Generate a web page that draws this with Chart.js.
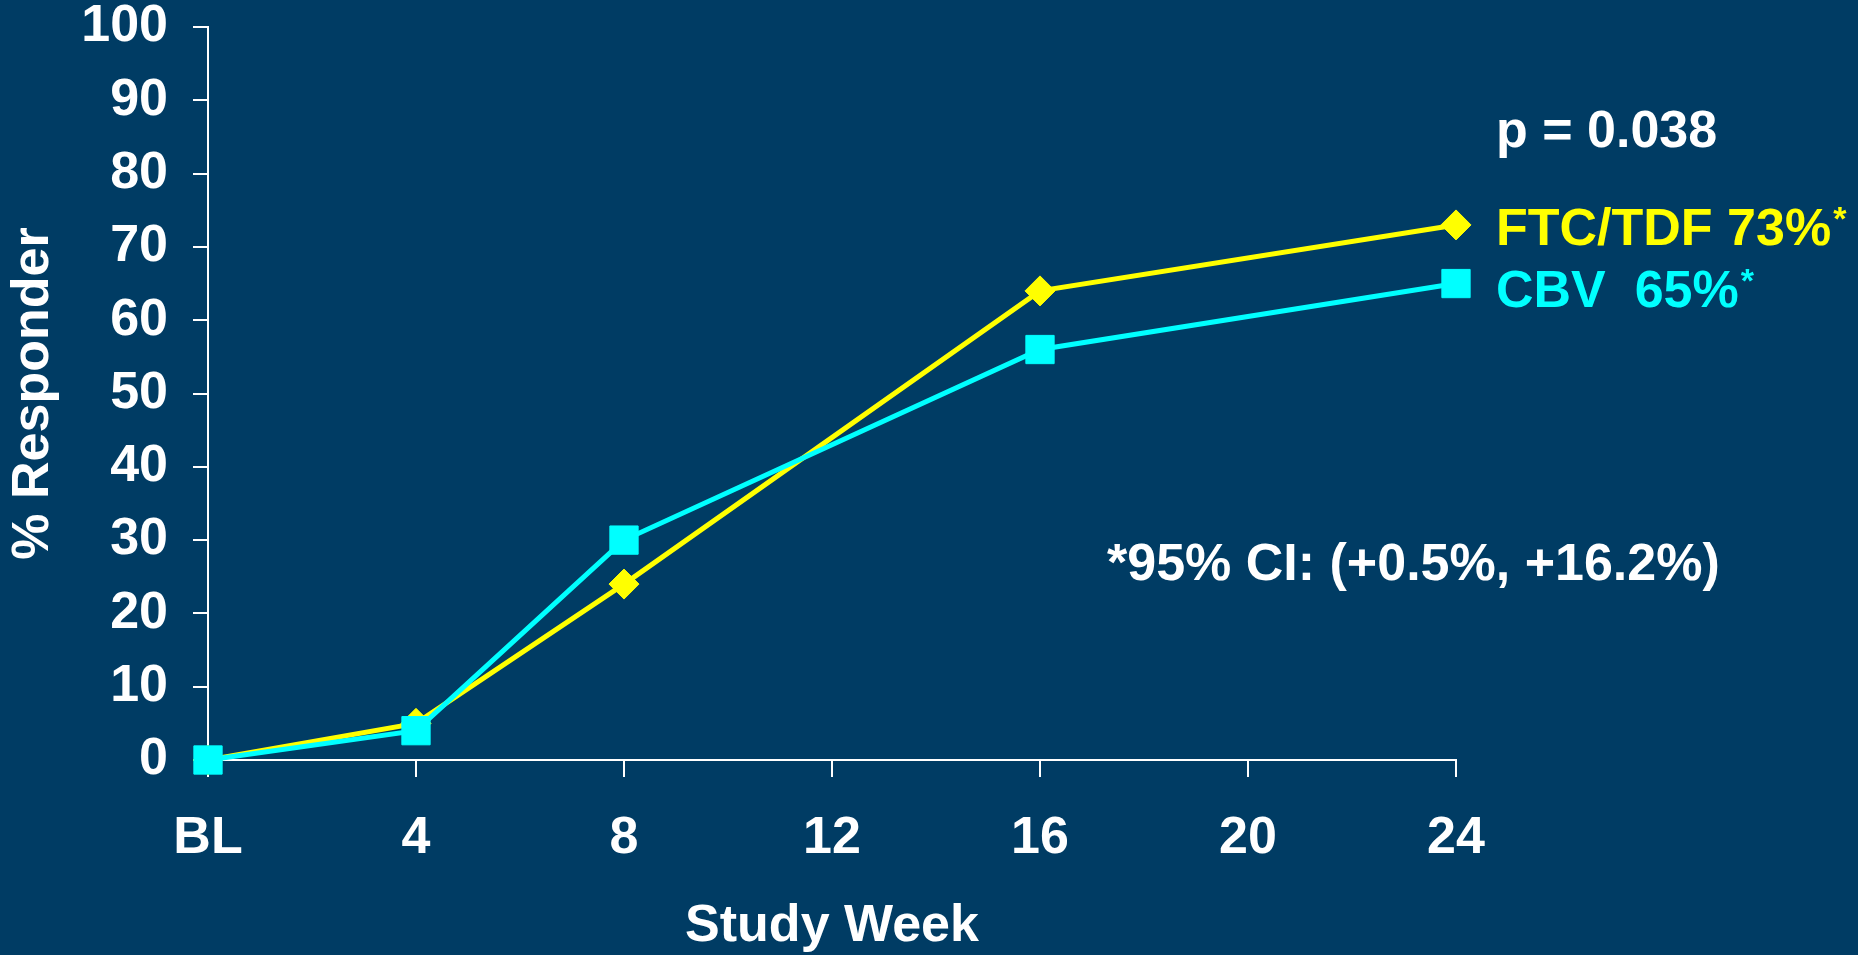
<!DOCTYPE html>
<html>
<head>
<meta charset="utf-8">
<script src="https://cdn.jsdelivr.net/npm/chart.js@4"></script>
<style>
html,body{margin:0;padding:0;background:#003c64;overflow:hidden}
canvas{display:block}
</style>
</head>
<body>
<canvas id="c" width="1858" height="955"></canvas>
<script>
// ---- data ----
const weeks = [0, 4, 8, 16, 24];
const ftcTdf = [0, 5, 24, 64, 73];
const cbv = [0, 4, 30, 56, 65];
const xTickValues = [0, 4, 8, 12, 16, 20, 24];
const xTickLabels = ['BL', '4', '8', '12', '16', '20', '24'];
const yTickValues = [0, 10, 20, 30, 40, 50, 60, 70, 80, 90, 100];
const seriesLabels = ['FTC/TDF 73%', 'CBV  65%'];
const pValueText = 'p = 0.038';
const ciText = '*95% CI: (+0.5%, +16.2%)';
const xTitle = 'Study Week';
const yTitle = '% Responder';

// ---- styles ----
const FAMILY = '"Liberation Sans", Arial, Helvetica, sans-serif';
const YELLOW = '#ffff00';
const CYAN = '#00ffff';
const WHITE = '#ffffff';

const toPoints = (ys) => weeks.map((w, i) => ({ x: w, y: ys[i] }));

const annotations = {
  id: 'annotations',
  afterDraw(chart) {
    const ctx = chart.ctx;
    const xs = chart.scales.x;
    const left = xs.getPixelForValue(weeks[weeks.length - 1]) + 40;
    const big = 'bold 52px ' + FAMILY;
    const small = 'bold 34px ' + FAMILY;
    ctx.save();
    ctx.textAlign = 'left';
    ctx.textBaseline = 'alphabetic';

    ctx.font = big;
    ctx.fillStyle = WHITE;
    ctx.fillText(pValueText, left, 147);

    const rows = [
      { text: seriesLabels[0], color: YELLOW, base: 245 },
      { text: seriesLabels[1], color: CYAN, base: 307 }
    ];
    rows.forEach(r => {
      ctx.font = big;
      ctx.fillStyle = r.color;
      ctx.fillText(r.text, left, r.base);
      const w = ctx.measureText(r.text).width;
      ctx.font = small;
      ctx.fillText('*', left + w + 2, r.base - 15);
    });

    ctx.font = big;
    ctx.fillStyle = WHITE;
    ctx.fillText(ciText, 1107, 580);
    ctx.restore();
  }
};

const tickFont = { family: FAMILY, size: 52, weight: 'bold', lineHeight: 1 };
const titleFont = { family: FAMILY, size: 52, weight: 'bold', lineHeight: 1.2 };

new Chart(document.getElementById('c'), {
  type: 'line',
  data: {
    datasets: [
      {
        label: seriesLabels[0],
        data: toPoints(ftcTdf),
        borderColor: YELLOW,
        backgroundColor: YELLOW,
        borderWidth: 5,
        pointStyle: 'rectRot',
        pointRadius: 15,
        pointBorderWidth: 1,
        pointBorderColor: YELLOW,
        pointBackgroundColor: YELLOW,
        tension: 0,
        clip: false,
        order: 2
      },
      {
        label: seriesLabels[1],
        data: toPoints(cbv),
        borderColor: CYAN,
        backgroundColor: CYAN,
        borderWidth: 5,
        pointStyle: 'rect',
        pointRadius: 20,
        pointBorderWidth: 1,
        pointBorderColor: CYAN,
        pointBackgroundColor: CYAN,
        tension: 0,
        clip: false,
        order: 1
      }
    ]
  },
  options: {
    responsive: false,
    animation: false,
    events: [],
    layout: { autoPadding: false, padding: { top: 27, right: 402, bottom: 0, left: 0 } },
    plugins: { legend: { display: false }, tooltip: { enabled: false } },
    scales: {
      x: {
        type: 'linear',
        min: xTickValues[0],
        max: xTickValues[xTickValues.length - 1],
        afterBuildTicks: (s) => { s.ticks = xTickValues.map(v => ({ value: v })); },
        afterFit: (s) => { s.height = 195; s.paddingLeft = 0; s.paddingRight = 0; },
        ticks: {
          color: WHITE,
          font: tickFont,
          padding: 36,
          maxRotation: 0,
          autoSkip: false,
          callback: (v) => xTickLabels[xTickValues.indexOf(v)]
        },
        grid: { drawOnChartArea: false, drawTicks: true, tickLength: 17, color: WHITE, lineWidth: 2 },
        border: { display: true, color: WHITE, width: 2 },
        title: { display: true, text: xTitle, color: WHITE, font: titleFont, padding: { top: 0, bottom: -3 } }
      },
      y: {
        type: 'linear',
        min: yTickValues[0],
        max: yTickValues[yTickValues.length - 1],
        afterBuildTicks: (s) => { s.ticks = yTickValues.map(v => ({ value: v })); },
        afterFit: (s) => { s.width = 208; s.paddingTop = 20; s.paddingBottom = 20; },
        ticks: { color: WHITE, font: tickFont, padding: 25, autoSkip: false },
        grid: { drawOnChartArea: false, drawTicks: true, tickLength: 15, color: WHITE, lineWidth: 2 },
        border: { display: true, color: WHITE, width: 2 },
        title: { display: true, text: yTitle, color: WHITE, font: titleFont, padding: { top: 2, bottom: 0 } }
      }
    }
  },
  plugins: [annotations]
});
</script>
</body>
</html>
